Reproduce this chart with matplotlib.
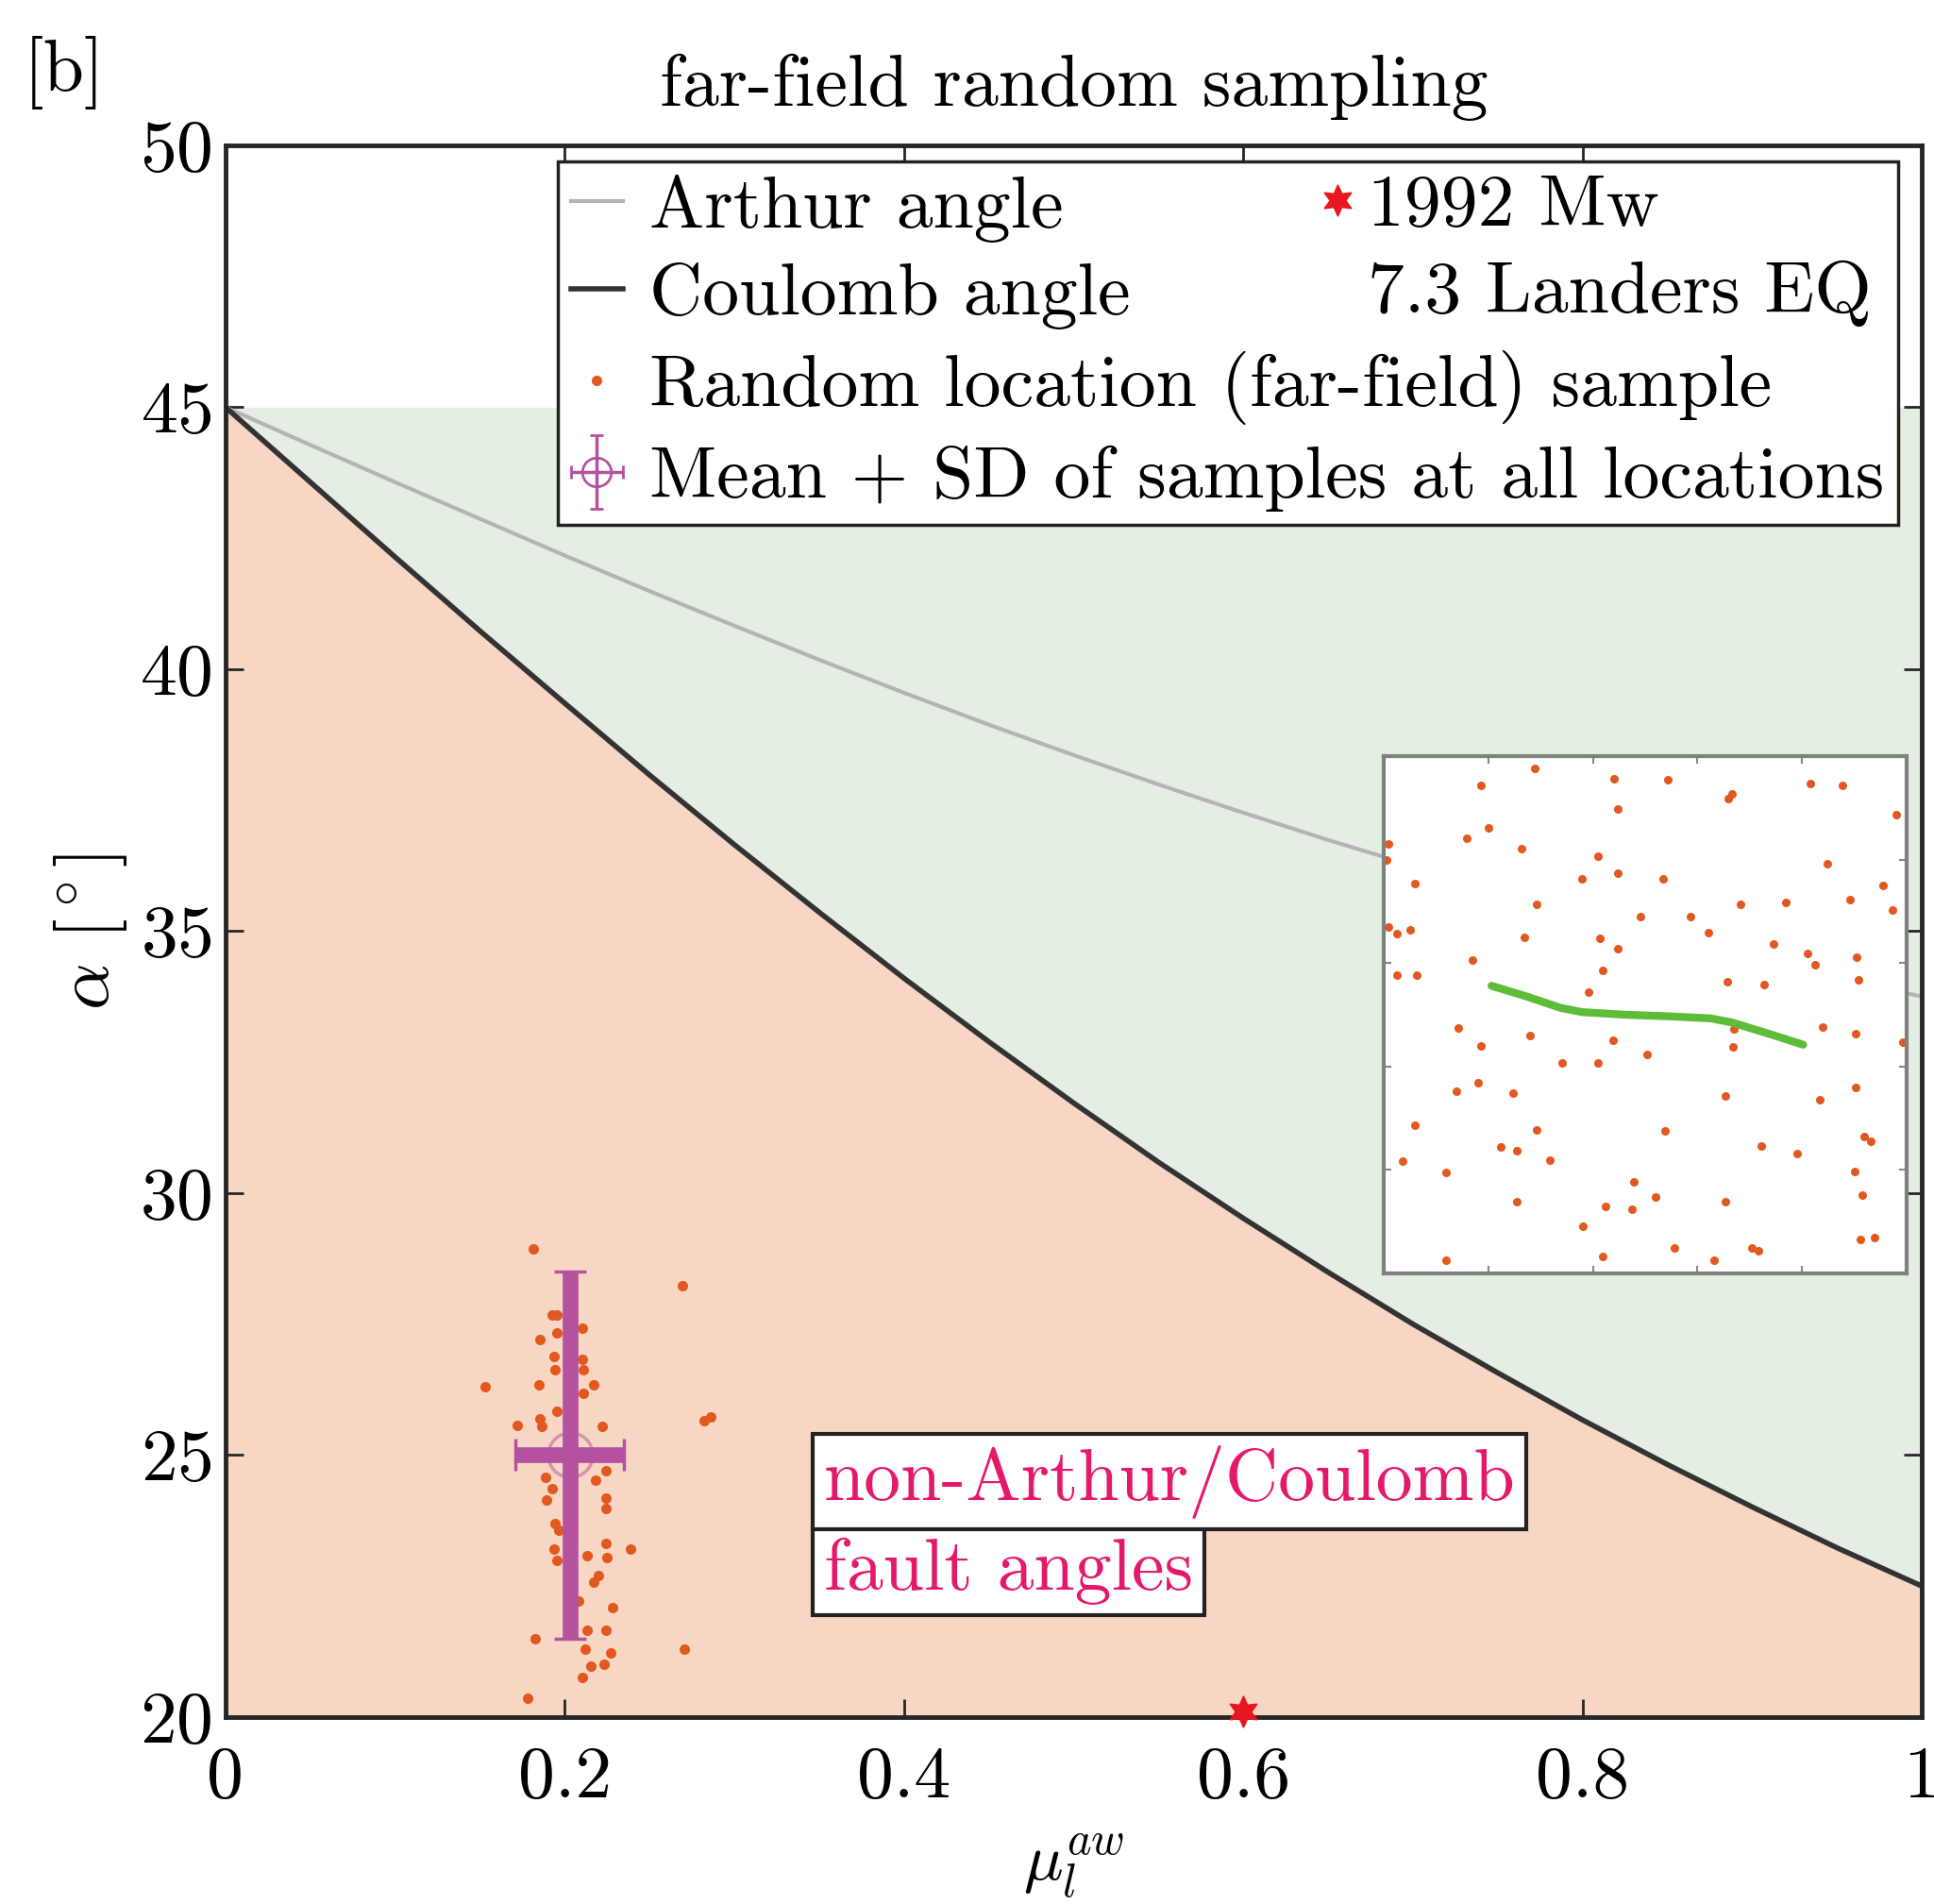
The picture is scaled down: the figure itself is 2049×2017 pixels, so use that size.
import numpy as np
import matplotlib
matplotlib.use("Agg")
import matplotlib.pyplot as plt
from matplotlib.container import ErrorbarContainer
from matplotlib.legend_handler import HandlerErrorbar

plt.rcParams['font.family'] = ['cmr10', 'DejaVu Serif']
plt.rcParams['mathtext.fontset'] = 'cm'
plt.rcParams['axes.formatter.use_mathtext'] = True

# fault angle curves
mu = [0, 0.05, 0.1, 0.15, 0.2, 0.25, 0.3, 0.35, 0.4, 0.45, 0.5,
      0.55, 0.6, 0.65, 0.7, 0.75, 0.8, 0.85, 0.9, 0.95, 1.0]
alpha_coulomb = [45.0, 43.57, 42.14, 40.73, 39.35, 37.98, 36.65, 35.36, 34.10, 32.89, 31.72,
                 30.59, 29.52, 28.49, 27.50, 26.57, 25.67, 24.82, 24.01, 23.23, 22.5]
alpha_arthur = [45.0, 44.28, 43.57, 42.87, 42.17, 41.49, 40.83, 40.18, 39.55, 38.94, 38.36,
                37.80, 37.26, 36.74, 36.25, 35.78, 35.34, 34.91, 34.50, 34.12, 33.75]

# far-field samples
sample_mu = [0.1817, 0.2691, 0.1925, 0.1955, 0.2103, 0.1856, 0.1935, 0.2103, 0.1945, 0.2112,
             0.1530, 0.1846, 0.2172, 0.2112, 0.1955, 0.1856, 0.1718, 0.1866, 0.2221, 0.2862,
             0.2823, 0.2241, 0.1886, 0.2182, 0.1925, 0.2241, 0.1895, 0.2241, 0.1945, 0.2241,
             0.1935, 0.2389, 0.1955, 0.2132, 0.2251, 0.2201, 0.2172, 0.2083, 0.2280, 0.1826,
             0.2132, 0.2241, 0.2122, 0.2270, 0.2152, 0.2231, 0.2704, 0.1783, 0.1955, 0.1964,
             0.2103]
sample_alpha = [28.94, 28.23, 27.68, 27.68, 27.43, 27.20, 26.88, 26.82, 26.63, 26.63,
                26.31, 26.34, 26.34, 26.18, 25.83, 25.70, 25.56, 25.54, 25.54, 25.72,
                25.66, 24.71, 24.58, 24.52, 24.36, 24.17, 24.14, 23.98, 23.69, 23.31,
                23.21, 23.21, 22.99, 23.08, 23.05, 22.70, 22.57, 22.22, 22.09, 21.49,
                21.65, 21.65, 21.30, 21.23, 20.98, 21.01, 21.30, 20.36, 27.33, 23.56,
                20.75]

mean_mu = 0.203
mean_alpha = 25.0
sd_mu = 0.032
sd_alpha = 3.5

landers_mu = [0.6]
landers_alpha = [20.1]

# inset map, normalised coordinates
inset_x = [0.288, 0.186, 0.441, 0.544, 0.815, 0.877, 0.666, 0.659, 0.448, 0.980,
           0.200, 0.159, 0.009, 0.005, 0.263, 0.409, 0.447, 0.535, 0.379, 0.849,
           0.060, 0.954, 0.293, 0.683, 0.768, 0.892, 0.973, 0.490, 0.586, 0.009,
           0.025, 0.050, 0.268, 0.413, 0.447, 0.620, 0.745, 0.811, 0.824, 0.905,
           0.169, 0.418, 0.025, 0.063, 0.656, 0.728, 0.908, 0.392, 0.142, 0.279,
           0.186, 0.438, 0.670, 0.668, 0.839, 0.903, 0.993, 0.504, 0.341, 0.409,
           0.181, 0.138, 0.247, 0.654, 0.833, 0.903, 0.060, 0.293, 0.538, 0.223,
           0.254, 0.721, 0.791, 0.918, 0.932, 0.036, 0.317, 0.119, 0.901, 0.479,
           0.520, 0.254, 0.424, 0.475, 0.654, 0.915, 0.380, 0.556, 0.704, 0.717,
           0.911, 0.939, 0.119, 0.418, 0.631]
inset_y = [0.977, 0.944, 0.957, 0.955, 0.947, 0.944, 0.927, 0.917, 0.897, 0.887,
           0.861, 0.841, 0.831, 0.799, 0.821, 0.806, 0.773, 0.763, 0.762, 0.791,
           0.753, 0.750, 0.713, 0.714, 0.717, 0.722, 0.703, 0.690, 0.690, 0.669,
           0.656, 0.664, 0.649, 0.648, 0.628, 0.659, 0.636, 0.619, 0.596, 0.611,
           0.606, 0.586, 0.577, 0.577, 0.564, 0.558, 0.568, 0.544, 0.475, 0.459,
           0.440, 0.450, 0.472, 0.437, 0.477, 0.464, 0.447, 0.423, 0.406, 0.406,
           0.369, 0.352, 0.349, 0.343, 0.336, 0.360, 0.287, 0.277, 0.275, 0.245,
           0.238, 0.246, 0.232, 0.265, 0.255, 0.217, 0.219, 0.195, 0.197, 0.177,
           0.147, 0.139, 0.130, 0.124, 0.139, 0.151, 0.091, 0.050, 0.050, 0.043,
           0.066, 0.070, 0.026, 0.032, 0.026]
trace_x = [0.206, 0.271, 0.339, 0.380, 0.462, 0.544, 0.625, 0.666, 0.734, 0.802]
trace_y = [0.556, 0.536, 0.513, 0.505, 0.500, 0.497, 0.493, 0.485, 0.464, 0.442]

xticks = [0, 0.2, 0.4, 0.6, 0.8, 1]
xtick_labels = ['0', '0.2', '0.4', '0.6', '0.8', '1']
yticks = [20, 25, 30, 35, 40, 45, 50]

FS = 56
magenta = '#b5529f'
orange = '#e2591f'

fig = plt.figure(figsize=(20.49, 20.17), dpi=100)
ax = fig.add_axes([0.1166, 0.0982, 0.8771, 0.8255])

ax.fill_between(mu, alpha_coulomb, 20, color='#f7d7c4', lw=0, zorder=0)
ax.fill_between(mu, alpha_coulomb, 45, color='#e4eee2', lw=0, zorder=0)

h_arthur, = ax.plot(mu, alpha_arthur, color='#b4b4b4', lw=3)
h_coulomb, = ax.plot(mu, alpha_coulomb, color='#333333', lw=4)
h_samples, = ax.plot(sample_mu, sample_alpha, 'o', color=orange, ms=8, mec='none', zorder=3)

ax.errorbar(mean_mu, mean_alpha, xerr=sd_mu, yerr=sd_alpha, fmt='o', ms=34,
            mfc='none', mec=(0.71, 0.32, 0.62, 0.5), mew=2.5, ecolor=magenta,
            elinewidth=12, capsize=12, capthick=4, zorder=4)
eb_proxy = ax.errorbar([np.nan], [np.nan], xerr=[1], yerr=[1], fmt='o', ms=22,
                       mfc='none', mec=magenta, mew=2, ecolor=magenta,
                       elinewidth=2.5, capsize=5, capthick=2.5)

h_star, = ax.plot(landers_mu, landers_alpha, marker=(6, 1, 0), ms=24, color='#e8161e',
                  linestyle='none', clip_on=False, zorder=8)

# annotation in two stacked boxes
ax.text(0.3528, 22.79, 'fault angles', color='#e5196c', fontsize=FS, ha='left', va='center',
        zorder=6, bbox=dict(boxstyle='square,pad=0.15', facecolor='white', edgecolor='#222222', lw=3))
ax.text(0.3528, 24.49, 'non-Arthur/Coulomb', color='#e5196c', fontsize=FS, ha='left', va='center',
        zorder=7, bbox=dict(boxstyle='square,pad=0.15', facecolor='white', edgecolor='#222222', lw=3))

ax.set_xlim(0, 1)
ax.set_ylim(20, 50)
ax.set_xticks(xticks)
ax.set_xticklabels(xtick_labels)
ax.set_yticks(yticks)
ax.tick_params(direction='in', length=14, width=2, top=True, right=True,
               labelsize=FS, color='#262626')
ax.tick_params(axis='x', pad=22)
ax.tick_params(axis='y', pad=10)
for s in ax.spines.values():
    s.set_linewidth(3.5)
    s.set_color('#262626')

ax.set_xlabel(r'$\mu_l^{aw}$', fontsize=50, labelpad=16)
ax.set_ylabel(r'$\alpha$ [$^\circ$]', fontsize=FS, labelpad=8)
ax.set_title('far-field random sampling', fontsize=FS, pad=30)
fig.text(0.012, 0.981, '[b]', fontsize=FS, va='top')

leg1 = ax.legend([h_arthur, h_coulomb, h_samples, eb_proxy],
                 ['Arthur angle', 'Coulomb angle', 'Random location (far-field) sample',
                  'Mean + SD of samples at all locations'],
                 loc='upper left', bbox_to_anchor=(0.196, 0.990), borderaxespad=0,
                 borderpad=0.18, handlelength=0.7, handletextpad=0.37, labelspacing=0.28,
                 fontsize=FS, fancybox=False, framealpha=1, edgecolor='#222222',
                 handler_map={ErrorbarContainer: HandlerErrorbar(xerr_size=0.35, yerr_size=0.5)})
leg1.get_frame().set_linewidth(2.5)
ax.add_artist(leg1)
blank = plt.Line2D([], [], linestyle='none')
ax.legend([h_star, blank], ['1992 Mw', '7.3 Landers EQ'], loc='upper left',
          bbox_to_anchor=(0.6327, 0.990), borderaxespad=0, borderpad=0.18,
          handlelength=0.7, handletextpad=0.06, labelspacing=0.28, fontsize=FS,
          frameon=False)

# inset map
ax_in = fig.add_axes([0.7155, 0.3312, 0.2704, 0.2717])
ax_in.plot(inset_x, inset_y, 'o', color=orange, ms=6.5, mec='none')
ax_in.plot(trace_x, trace_y, color='#5dbd3b', lw=6, solid_capstyle='round')
ax_in.set_xlim(0, 1)
ax_in.set_ylim(0, 1)
ax_in.set_xticks([0.2, 0.4, 0.6, 0.8])
ax_in.set_yticks([0.2, 0.4, 0.6, 0.8])
ax_in.tick_params(direction='in', length=6, width=1.5, colors='#888888', top=True, right=True,
                  labelbottom=False, labelleft=False)
for s in ax_in.spines.values():
    s.set_linewidth(3)
    s.set_color('#808080')

fig.savefig('out.png', dpi=100)
